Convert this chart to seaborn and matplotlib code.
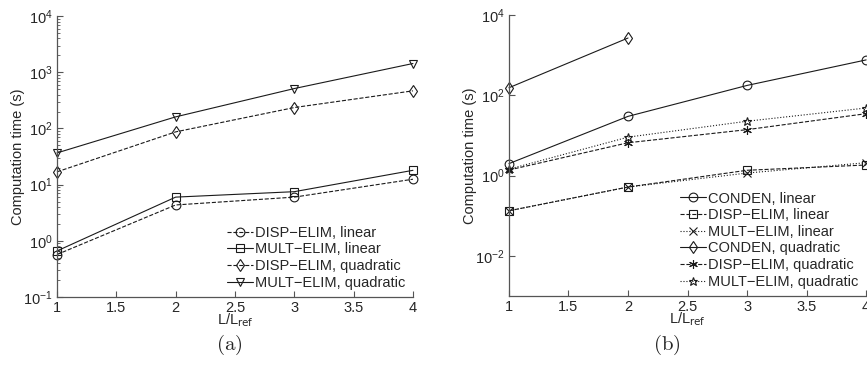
import numpy as np
import pandas as pd
import matplotlib
matplotlib.use("Agg")
import matplotlib.pyplot as plt
import matplotlib.ticker as mticker
import seaborn as sns

# panel (a) data
ratio = [1, 2, 3, 4]
disp_lin_a = [0.57, 4.35, 6.0, 12.5]
mult_lin_a = [0.66, 6.0, 7.5, 18.0]
disp_quad_a = [16.9, 87, 236, 468]
mult_quad_a = [36.7, 161, 514, 1435]

# panel (b) data
conden_lin_b = [1.99, 30, 177, 766]
disp_lin_b = [0.133, 0.52, 1.36, 1.84]
mult_lin_b = [0.133, 0.52, 1.16, 2.1]
conden_quad_b = [155, 2690]
disp_quad_b = [1.38, 6.6, 14, 35]
mult_quad_b = [1.45, 9.1, 22.7, 48.5]

sns.set_theme(style="ticks")
plt.rcParams["font.family"] = ["Liberation Sans", "DejaVu Sans"]
plt.rcParams["xtick.direction"] = "in"
plt.rcParams["ytick.direction"] = "in"
plt.rcParams["axes.spines.top"] = False
plt.rcParams["axes.spines.right"] = False
plt.rcParams["axes.edgecolor"] = "#555555"
plt.rcParams["axes.linewidth"] = 0.9

FS = 10.5

fig = plt.figure(figsize=(8.67, 3.72), dpi=100)
ax1 = fig.add_axes([0.0657, 0.2016, 0.4106, 0.755])
ax2 = fig.add_axes([0.587, 0.2043, 0.412, 0.755])


def draw(ax, x, y, label, ls, mk):
    sns.lineplot(x=x[:len(y)], y=y, ax=ax, label=label, color="k",
                 linestyle=ls, linewidth=0.8, marker=mk, markersize=6.3,
                 markerfacecolor="none", markeredgecolor="k",
                 markeredgewidth=0.8, clip_on=False)


M = "\u2212"
draw(ax1, ratio, disp_lin_a, f"DISP{M}ELIM, linear", "--", "o")
draw(ax1, ratio, mult_lin_a, f"MULT{M}ELIM, linear", "-", "s")
draw(ax1, ratio, disp_quad_a, f"DISP{M}ELIM, quadratic", "--", "d")
draw(ax1, ratio, mult_quad_a, f"MULT{M}ELIM, quadratic", "-", "v")

asterisk = (6, 2, 0)
draw(ax2, ratio, conden_lin_b, "CONDEN, linear", "-", "o")
draw(ax2, ratio, disp_lin_b, f"DISP{M}ELIM, linear", "--", "s")
draw(ax2, ratio, mult_lin_b, f"MULT{M}ELIM, linear", ":", "x")
draw(ax2, ratio, conden_quad_b, "CONDEN, quadratic", "-", "d")
draw(ax2, ratio, disp_quad_b, f"DISP{M}ELIM, quadratic", "--", asterisk)
draw(ax2, ratio, mult_quad_b, f"MULT{M}ELIM, quadratic", ":", "*")

for ax, lo, step in [(ax1, 0.1, 1), (ax2, 1e-3, 2)]:
    ax.set_yscale("log")
    ax.set_xlim(1, 4)
    ax.set_ylim(lo, 1e4)
    ax.set_xticks([1, 1.5, 2, 2.5, 3, 3.5, 4])
    ax.set_xticklabels(["1", "1.5", "2", "2.5", "3", "3.5", "4"])
    if step == 1:
        ax.yaxis.set_major_locator(mticker.LogLocator(base=10, numticks=10))
        ax.yaxis.set_minor_locator(mticker.LogLocator(base=10, subs=np.arange(2, 10), numticks=20))
    else:
        ax.set_yticks([1e-2, 1, 1e2, 1e4])
        ax.yaxis.set_minor_locator(mticker.NullLocator())
    ax.yaxis.set_minor_formatter(mticker.NullFormatter())
    ax.tick_params(axis="both", which="major", labelsize=FS, length=4,
                   width=0.8, color="#555555", pad=3)
    ax.tick_params(axis="y", which="minor", length=2, width=0.6, color="#555555")
    ax.set_xlabel(r"L/L$_{\mathrm{ref}}$", fontsize=FS, labelpad=-3)
    ax.set_ylabel("Computation time (s)", fontsize=FS, labelpad=-1)
    ax.legend(loc="lower right", frameon=False, fontsize=FS, handlelength=1.8,
              handletextpad=0.15, labelspacing=0.18, borderaxespad=0.3,
              borderpad=0.2)

fig.text(0.264, 0.072, r"$\mathrm{(a)}$", ha="center", va="center",
         fontsize=15, math_fontfamily="cm")
fig.text(0.769, 0.072, r"$\mathrm{(b)}$", ha="center", va="center",
         fontsize=15, math_fontfamily="cm")

fig.savefig("out.png", dpi=100)
